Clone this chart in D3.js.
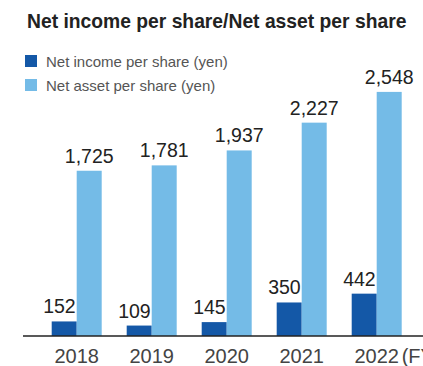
<!DOCTYPE html>
<html>
<head>
<meta charset="utf-8">
<script src="https://cdn.jsdelivr.net/npm/d3@7"></script>
<style>
  html, body { margin: 0; padding: 0; background: #fff; }
  svg { display: block; font-family: "Liberation Sans", Arial, Helvetica, sans-serif; }
</style>
</head>
<body>
<svg id="chart" width="423" height="366"></svg>
<script>
const years = ["2018", "2019", "2020", "2021", "2022"];
const netIncome = [152, 109, 145, 350, 442];
const netAsset = [1725, 1781, 1937, 2227, 2548];
const seriesNames = ["Net income per share (yen)", "Net asset per share (yen)"];
const seriesColors = ["#1458a7", "#74bbe7"];
const titleText = "Net income per share/Net asset per share";
const unitSuffix = "(FY)";

const svg = d3.select("#chart");
const W = 423, H = 366;
const baseY = 336;

const x0 = d3.scaleBand().domain(years).range([51.7, 401.7]).paddingInner(1/3).paddingOuter(0);
const x1 = d3.scaleBand().domain([0, 1]).range([0, x0.bandwidth()]).padding(0);
const y = d3.scaleLinear().domain([0, 2600]).range([baseY, baseY - 2600 * 0.0958]);

// Title
svg.append("text")
  .attr("x", 27).attr("y", 28)
  .attr("font-size", 19.3).attr("font-weight", "bold")
  .attr("fill", "#222")
  .text(titleText);

// Legend
const legend = svg.append("g");
seriesNames.forEach((name, i) => {
  const ly = 61 + i * 24;
  legend.append("rect")
    .attr("x", 25).attr("y", ly - 6).attr("width", 12).attr("height", 12)
    .attr("fill", seriesColors[i]);
  legend.append("text")
    .attr("x", 46).attr("y", ly + 5.5)
    .attr("font-size", 15).attr("fill", "#555")
    .text(name);
});

const data = years.map((yr, i) => ({ year: yr, vals: [netIncome[i], netAsset[i]] }));

const groups = svg.append("g").selectAll("g").data(data).join("g")
  .attr("transform", d => `translate(${x0(d.year)},0)`);

groups.selectAll("rect").data(d => d.vals.map((v, k) => ({ v, k }))).join("rect")
  .attr("x", d => x1(d.k))
  .attr("width", x1.bandwidth())
  .attr("y", d => y(d.v))
  .attr("height", d => baseY - y(d.v))
  .attr("fill", d => seriesColors[d.k]);

// Value labels
groups.selectAll("text.val").data(d => d.vals.map((v, k) => ({ v, k }))).join("text")
  .attr("class", "val")
  .attr("x", d => d.k === 0 ? x1(0) + x1.bandwidth() - 1 : x1(1) + x1.bandwidth() / 2)
  .attr("y", d => y(d.v) - 8)
  .attr("text-anchor", d => d.k === 0 ? "end" : "middle")
  .attr("font-size", 19.5)
  .attr("fill", "#222")
  .text(d => d3.format(",")(d.v));

// Axis
const xAxis = d3.axisBottom(x0).tickSize(0).tickPadding(0);
const axisG = svg.append("g").attr("transform", `translate(0,${baseY})`).call(xAxis);
axisG.select(".domain").remove();
axisG.selectAll("text")
  .attr("font-size", 20).attr("fill", "#444")
  .attr("font-family", "'Liberation Sans', Arial, sans-serif")
  .attr("y", 27).attr("dy", null);

svg.append("line")
  .attr("x1", 23).attr("x2", W)
  .attr("y1", baseY).attr("y2", baseY)
  .attr("stroke", "#222").attr("stroke-width", 1.5);

// (FY) suffix after last year label
const lastX = x0(years[years.length - 1]) + x0.bandwidth() / 2;
svg.append("text")
  .attr("x", lastX + 25).attr("y", 363)
  .attr("font-size", 20).attr("fill", "#444")
  .text(unitSuffix);
</script>
</body>
</html>
